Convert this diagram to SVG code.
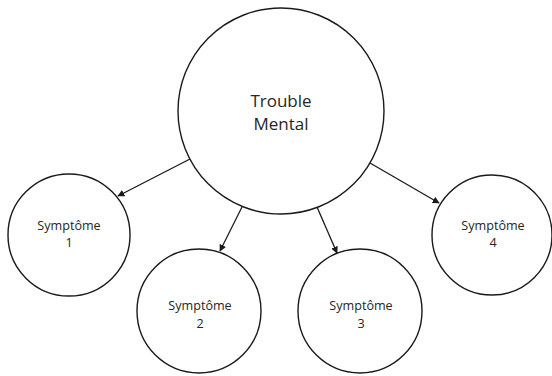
<svg xmlns="http://www.w3.org/2000/svg" width="552" height="376" viewBox="0 0 552 376">
<style>
.n{fill:#fff;stroke:#1a1a1a;stroke-width:1.4}
.t{font-family:"Open Sans","Liberation Sans",sans-serif;fill:#262626;text-anchor:middle}
.big{font-size:17px}
.sm{font-size:12.6px}
.c{stroke:#1a1a1a;stroke-width:1.3;fill:none;marker-end:url(#ah)}
</style>
<defs>
<marker id="ah" viewBox="0 0 10 10" refX="9" refY="5" markerWidth="7" markerHeight="7" markerUnits="userSpaceOnUse" orient="auto">
<path d="M0,0 L10,5 L0,10 z" fill="#1a1a1a"/>
</marker>
</defs>
<rect width="552" height="376" fill="#fff"/>
<g id="connectors">
<line class="c" x1="190" y1="159" x2="118" y2="196"/>
<line class="c" x1="242" y1="207" x2="220" y2="251"/>
<line class="c" x1="317" y1="207" x2="337" y2="253"/>
<line class="c" x1="370" y1="163" x2="439" y2="203"/>
</g>
<g id="trouble">
<circle class="n" cx="281" cy="111" r="103"/>
<text class="t big" x="281" y="107">Trouble</text>
<text class="t big" x="281" y="130">Mental</text>
</g>
<g id="s1">
<circle class="n" cx="69" cy="235" r="61"/>
<text class="t sm" x="69" y="230">Symptôme</text>
<text class="t sm" x="69" y="247">1</text>
</g>
<g id="s2">
<circle class="n" cx="199" cy="311" r="62"/>
<text class="t sm" x="200" y="310">Symptôme</text>
<text class="t sm" x="200" y="328">2</text>
</g>
<g id="s3">
<circle class="n" cx="360" cy="311" r="62"/>
<text class="t sm" x="361" y="310">Symptôme</text>
<text class="t sm" x="361" y="328">3</text>
</g>
<g id="s4">
<circle class="n" cx="492" cy="235" r="60"/>
<text class="t sm" x="493" y="230">Symptôme</text>
<text class="t sm" x="493" y="247">4</text>
</g>
</svg>
